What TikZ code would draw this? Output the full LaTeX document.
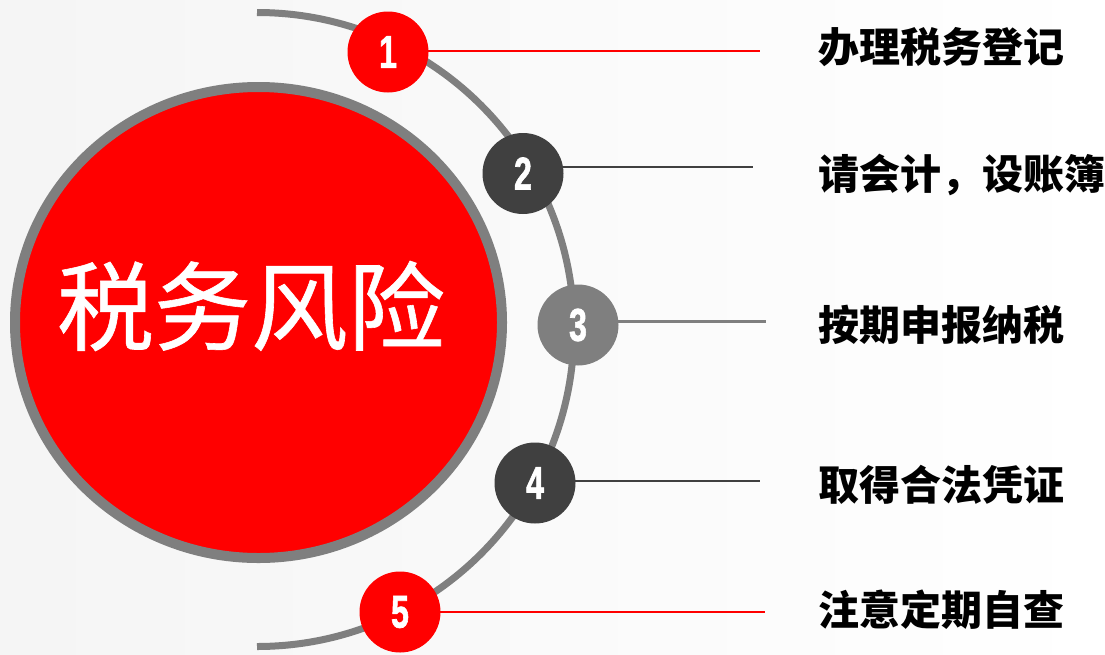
\documentclass[tikz,border=0pt]{standalone}
\usepackage{fontspec}
\setmainfont{Liberation Sans}
\newfontfamily\cjk{Noto Sans CJK SC}
\newfontfamily\cjkm{Noto Sans CJK SC}[FakeBold=0.6]
\newfontfamily\numfont{Liberation Sans}[BoldFeatures={FakeBold=1.6}]
\usetikzlibrary{shapes.geometric}
\definecolor{rred}{HTML}{FF0000}
\definecolor{dgray}{HTML}{404040}
\definecolor{mgray}{HTML}{7F7F7F}
\begin{document}
\begin{tikzpicture}[x=1pt,y=-1pt,
  num/.style={circle,minimum size=81pt,inner sep=0pt,text=white,
    font=\numfont\bfseries\fontsize{46}{46}\selectfont},
  lab/.style={anchor=west,inner sep=0pt,text=black,
    font=\cjk\bfseries\fontsize{41}{41}\selectfont},
  conn/.style={line width=2.2pt}]
\shade[left color=black!4,right color=white] (0,0) rectangle (1105,654);
\useasboundingbox (0,0) rectangle (1105,654);
% outer arc
\draw[mgray,line width=7pt] (257,12.5) arc[start angle=-90,end angle=90,radius=317];
% core
\node[ellipse,draw=mgray,line width=10pt,fill=rred,minimum width=487pt,minimum height=471pt,inner sep=0pt] (core) at (258.5,322.5) {};
\node[text=white,inner sep=0pt,font=\cjkm\fontsize{97}{97}\selectfont] (title) at (251,306) {税务风险};
% end coordinates
\coordinate (e1) at (760,51);
\coordinate (e2) at (753,167);
\coordinate (e3) at (766,321);
\coordinate (e4) at (760,481);
\coordinate (e5) at (765,612);
% number circles (positions)
\coordinate (p1) at (388,52);
\coordinate (p2) at (523,173.5);
\coordinate (p3) at (578,325);
\coordinate (p4) at (535,483);
\coordinate (p5) at (400,612);
% connectors
\draw[conn,rred] (p1 |- e1) -- (e1);
\draw[conn,dgray] (p2 |- e2) -- (e2);
\draw[conn,mgray,line width=3pt] (p3 |- e3) -- (e3);
\draw[conn,dgray] (p4 |- e4) -- (e4);
\draw[conn,rred] (p5 |- e5) -- (e5);
% circles
\node[num,fill=rred] (n1) at (p1) {\scalebox{0.7}[1]{1}};
\node[num,fill=dgray] (n2) at (p2) {\scalebox{0.7}[1]{2}};
\node[num,fill=mgray] (n3) at (p3) {\scalebox{0.7}[1]{3}};
\node[num,fill=dgray] (n4) at (p4) {\scalebox{0.7}[1]{4}};
\node[num,fill=rred] (n5) at (p5) {\scalebox{0.7}[1]{5}};
% labels
\node[lab] (t1) at (818,47) {办理税务登记};
\node[lab] (t2) at (818,175) {请会计，设账簿};
\node[lab] (t3) at (818,325) {按期申报纳税};
\node[lab] (t4) at (818,485) {取得合法凭证};
\node[lab] (t5) at (818,610) {注意定期自查};
\end{tikzpicture}
\end{document}
